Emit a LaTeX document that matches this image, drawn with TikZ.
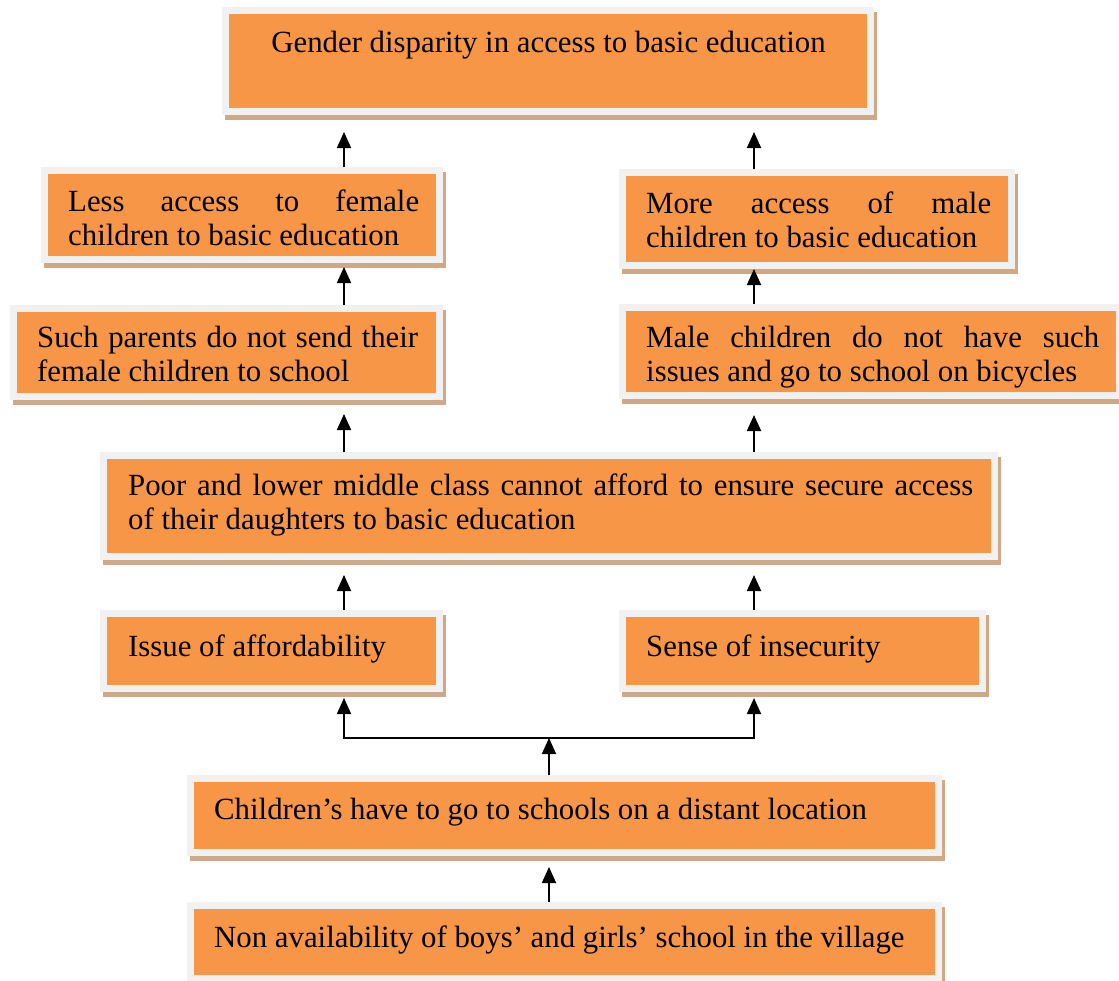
\documentclass[tikz,border=0pt]{standalone}
\usepackage{fontspec}
\setmainfont{Liberation Serif}
\usetikzlibrary{arrows.meta}
\definecolor{boxorange}{RGB}{247,150,70}
\definecolor{framegray}{RGB}{241,241,241}
\definecolor{shadowtan}{RGB}{206,168,135}
\hbadness=10000
\tolerance=10000
\tikzset{
  fbox/.style={rectangle, fill=boxorange, draw=framegray, line width=7pt, inner sep=0pt,
    preaction={draw=shadowtan, fill=shadowtan, line width=7pt,
      transform canvas={xshift=3pt,yshift=-5pt}}},
  txt/.style={anchor=base west, inner sep=0pt, text width=#1, align=justify,
    font=\fontsize{30.8}{34.5}\selectfont},
  stxt/.style={inner sep=0pt, font=\fontsize{30.8}{34.5}\selectfont},
  arr/.style={line width=1.8pt, line join=miter, -{Triangle[length=16pt,width=14pt]}}
}
\begin{document}
\begin{tikzpicture}[x=1pt,y=-1pt]
\useasboundingbox[fill=white] (0,0) rectangle (1119,980);
% boxes (centre = centre of orange area)
\node[fbox, minimum width=645pt, minimum height=101pt] (top) at (548,61) {};
\node[fbox, minimum width=395pt, minimum height=89pt] (L2) at (242,215) {};
\node[fbox, minimum width=389pt, minimum height=93pt] (R2) at (817,219) {};
\node[fbox, minimum width=426pt, minimum height=88pt] (L3) at (226.5,352.5) {};
\node[fbox, minimum width=497pt, minimum height=88pt] (R3) at (871,351.5) {};
\node[fbox, minimum width=891pt, minimum height=101pt] (B4) at (549,506) {};
\node[fbox, minimum width=336pt, minimum height=75pt] (L5) at (271.5,651) {};
\node[fbox, minimum width=360pt, minimum height=75pt] (R5) at (802.5,651) {};
\node[fbox, minimum width=748pt, minimum height=74pt] (B6) at (564.5,815.5) {};
\node[fbox, minimum width=748pt, minimum height=73pt] (B7) at (564.5,942) {};
% texts
\node[stxt, anchor=base] (ttop) at (548.5,52) {Gender disparity in access to basic education};
\node[txt=351pt] (tL2) at (68,211) {Less access to female\linebreak children to basic education};
\node[txt=345pt] (tR2) at (646,213) {More access of male\linebreak children to basic education};
\node[txt=381pt] (tL3) at (37,347) {Such parents do not send their\linebreak female children to school};
\node[txt=453pt] (tR3) at (646,347) {Male children do not have such\linebreak issues and go to school on bicycles};
\node[txt=845pt] (tB4) at (128,495) {Poor and lower middle class cannot afford to ensure secure access\linebreak of their daughters to basic education};
\node[stxt, anchor=base west] (tL5) at (128,656) {Issue of affordability};
\node[stxt, anchor=base west] (tR5) at (646,656) {Sense of insecurity};
\node[stxt, anchor=base west] (tB6) at (214,819) {Children’s have to go to schools on a distant location};
\node[stxt, anchor=base west] (tB7) at (214,947) {Non availability of boys’ and girls’ school in the village};
% connector columns
\coordinate (cL) at (344,0);
\coordinate (cR) at (754,0);
\coordinate (jn) at (549,738);
% arrows
\draw[arr, shorten >=17pt] (L2.north -| cL) -- (top.south -| cL);
\draw[arr, shorten >=17pt] (R2.north -| cR) -- (top.south -| cR);
\draw[arr, shorten >=4pt] (L3.north -| cL) -- (L2.south -| cL);
\draw[arr] (R3.north -| cR) -- (R2.south -| cR);
\draw[arr, shorten >=14pt] (B4.north -| cL) -- (L3.south -| cL);
\draw[arr, shorten >=16pt] (B4.north -| cR) -- (R3.south -| cR);
\draw[arr, shorten >=15pt] (L5.north -| cL) -- (B4.south -| cL);
\draw[arr, shorten >=15pt] (R5.north -| cR) -- (B4.south -| cR);
\draw[arr] (B6.north -| jn) -- (jn);
\draw[arr, shorten >=6pt] (jn) -| (L5.south -| cL);
\draw[arr, shorten >=6pt] (jn) -| (R5.south -| cR);
\draw[arr, shorten >=11pt] (B7.north -| jn) -- (B6.south -| jn);
\end{tikzpicture}
\end{document}
